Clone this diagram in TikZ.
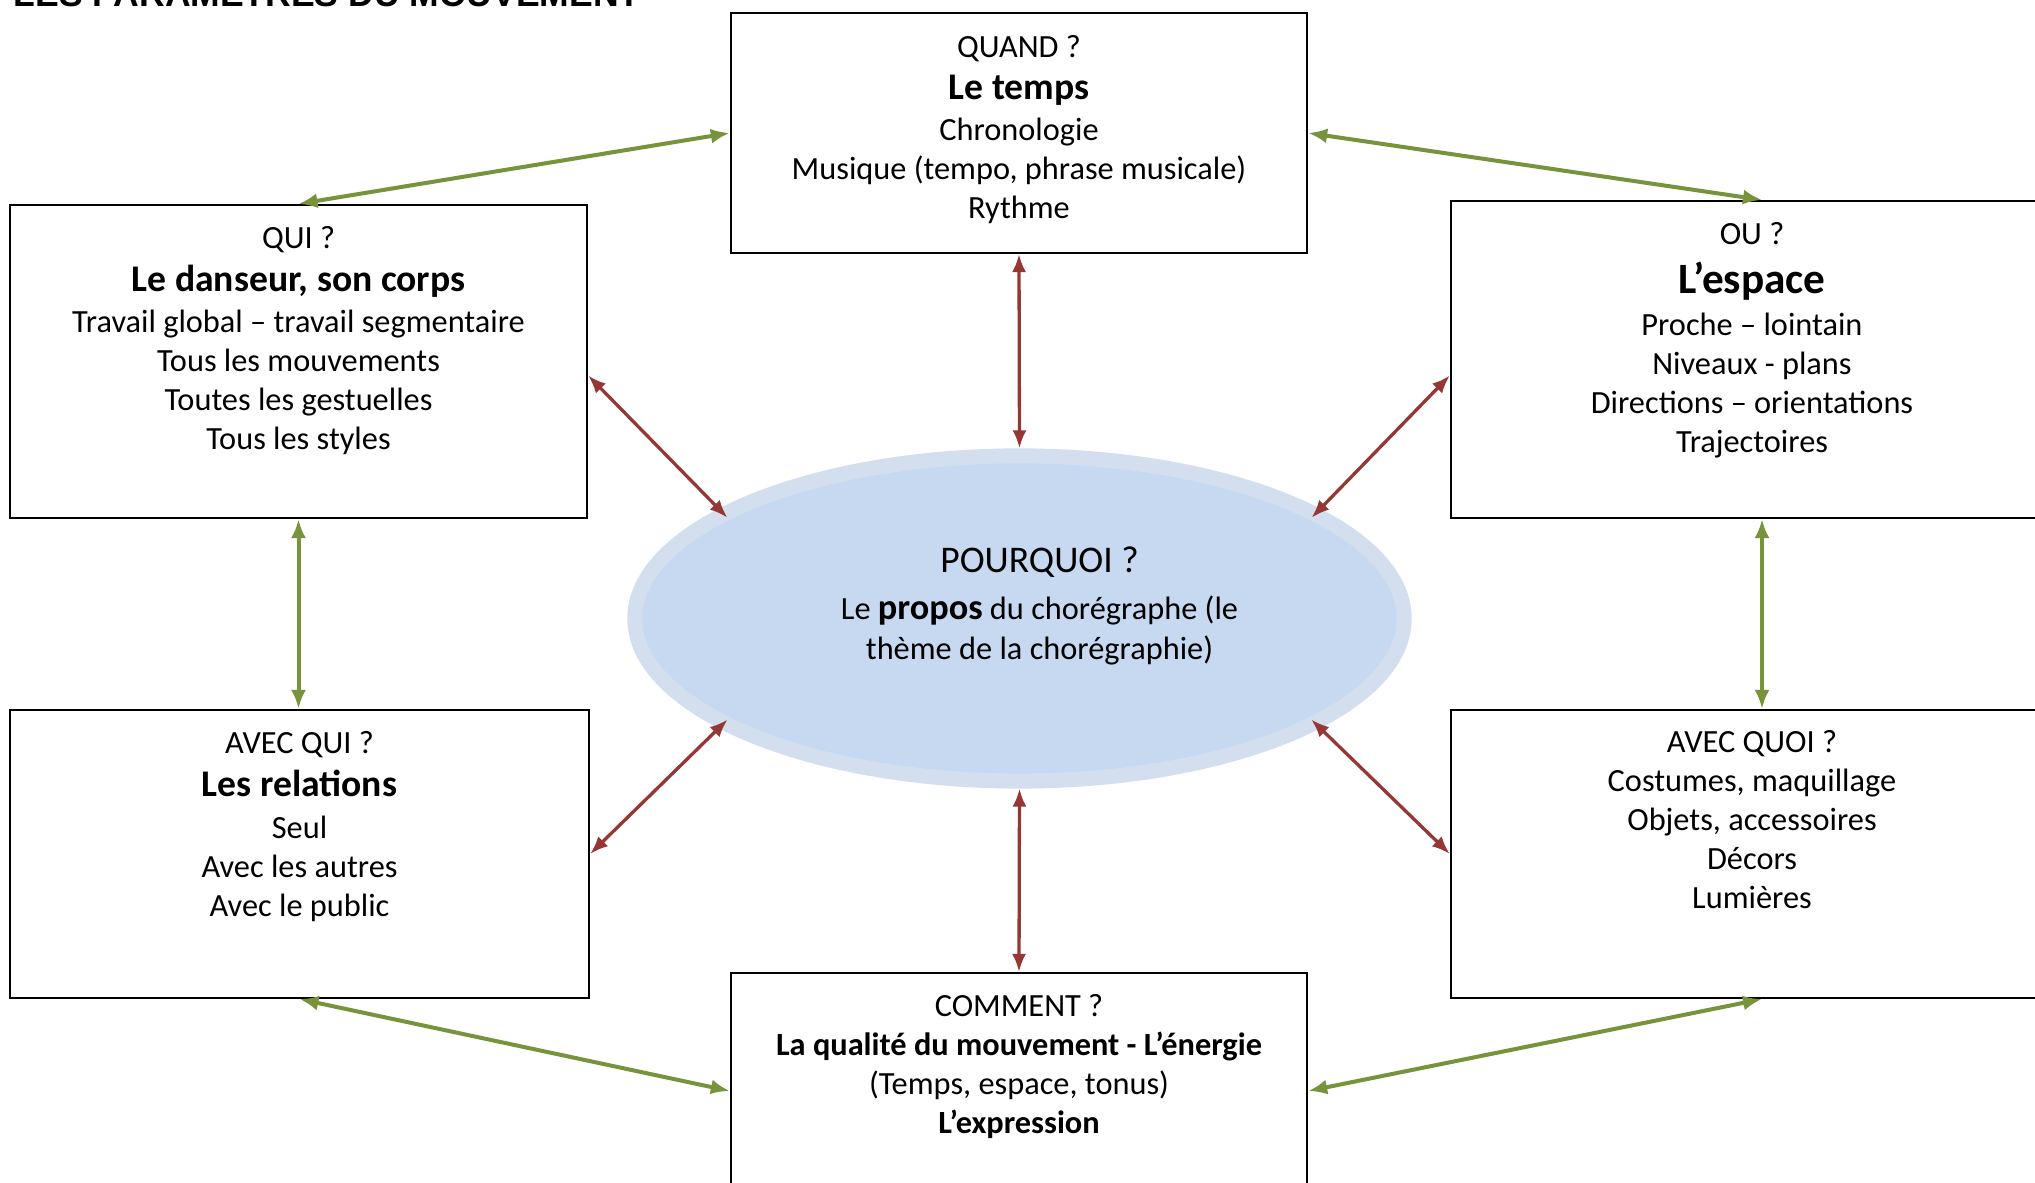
\documentclass[tikz,border=0pt]{standalone}
\usepackage{fontspec}
\setmainfont{Carlito}
\newfontfamily\titrefont{Liberation Sans}
\usetikzlibrary{arrows.meta,shapes.geometric}
\definecolor{vert}{HTML}{77933C}
\definecolor{rouge}{HTML}{953735}
\definecolor{anneau}{HTML}{D3DEEF}
\definecolor{bulle}{HTML}{C6D9F0}
\newcommand\gras[1]{{\fontsize{10.7}{11.1}\selectfont\bfseries #1}}

\begin{document}
\begin{tikzpicture}[x=0.01cm,y=-0.01cm,
  boite/.style={draw,line width=0.02cm,inner sep=0pt},
  texte/.style={anchor=north,align=center,inner sep=0pt,font=\fontsize{9.2}{11.1}\selectfont},
  lienvert/.style={{Latex[length=0.19cm,width=0.15cm]}-{Latex[length=0.19cm,width=0.15cm]},vert,line width=0.04cm},
  lienrouge/.style={{Latex[length=0.18cm,width=0.14cm]}-{Latex[length=0.18cm,width=0.14cm]},rouge,line width=0.033cm}]

\useasboundingbox (0,0) rectangle (2035,1183);
\clip (0,0) rectangle (2035,1183);

\node[anchor=base west,inner sep=0pt,font=\titrefont\fontsize{10.1}{12}\selectfont\bfseries] (titre) at (13,7) {LES PARAMÈTRES DU MOUVEMENT};

% les cadres
\node[boite,minimum width=5.76cm,minimum height=2.4cm] (quand) at (1019,133) {};
\node[boite,minimum width=5.77cm,minimum height=3.13cm] (qui) at (298.5,361.5) {};
\node[boite,minimum width=6.22cm,minimum height=3.17cm] (ou) at (1762,359.5) {};
\node[boite,minimum width=5.79cm,minimum height=2.88cm] (avecqui) at (299.5,854) {};
\node[boite,minimum width=6.22cm,minimum height=2.88cm] (avecquoi) at (1762,854) {};
\node[boite,minimum width=5.76cm,minimum height=2.36cm] (comment) at (1019,1091) {};

\node[ellipse,draw=anneau,fill=bulle,line width=0.15cm,inner sep=0pt,
  minimum width=7.69cm,minimum height=3.25cm] (pq) at (1019.5,618.5) {};

% les textes
\node[texte] (quandtxt) at ([yshift=-0.23cm]quand.north) {QUAND ?\\[0.03cm]
  \gras{Le temps}\\[0.02cm] Chronologie\\ Musique (tempo, phrase musicale)\\ Rythme};
\node[texte] (quitxt) at ([yshift=-0.22cm]qui.north) {QUI ?\\[0.04cm]
  \gras{Le danseur, son corps}\\[0.02cm] Travail global – travail segmentaire\\
  Tous les mouvements\\ Toutes les gestuelles\\ Tous les styles};
\node[texte] (outxt) at ([xshift=-0.1cm,yshift=-0.22cm]ou.north) {OU ?\\[0.1cm]
  {\fontsize{12.3}{11.1}\selectfont\bfseries L’espace}\\[0.025cm] Proche – lointain\\ Niveaux - plans\\
  Directions – orientations\\ Trajectoires};
\node[texte] (avecquitxt) at ([yshift=-0.22cm]avecqui.north) {AVEC QUI ?\\[0.04cm]
  \gras{Les relations}\\[0.03cm] Seul\\ Avec les autres\\ Avec le public};
\node[texte] (avecquoitxt) at ([xshift=-0.1cm,yshift=-0.21cm]avecquoi.north) {AVEC QUOI ?\\
  Costumes, maquillage\\ Objets, accessoires\\ Décors\\ Lumières};
\node[texte] (commenttxt) at ([yshift=-0.22cm]comment.north) {COMMENT ?\\
  \textbf{La qualité du mouvement - L’énergie}\\ (Temps, espace, tonus)\\
  \textbf{L’expression}};
\node[texte] (pqtxt) at ([xshift=0.2cm,yshift=0.72cm]pq.center)
  {{\fontsize{10.7}{11.1}\selectfont POURQUOI ?}\\[0.08cm]
  Le {\fontsize{10.3}{11.1}\selectfont\bfseries propos} du chorégraphe (le\\[0.01cm] thème de la chorégraphie)};

% les liens
\coordinate (quiD) at ([yshift=-0.14cm]qui.east);
\coordinate (ouG) at ([yshift=-0.16cm]ou.west);
\coordinate (quiB) at (qui.south |- avecqui.north);
\foreach \a/\b in {quand.south/pq.north,comment.north/pq.south}
  \draw[lienrouge] (\a) -- (\b);
\foreach \a/\b in {quiD/pq.160,ouG/pq.20,avecqui.east/pq.200,avecquoi.west/pq.-20}
  \draw[lienrouge,shorten >=-0.12cm] (\a) -- (\b);
\foreach \a/\b in {qui.north/quand.west,quand.east/ou.north,qui.south/quiB,
    ou.south/avecquoi.north,avecqui.south/comment.west,comment.east/avecquoi.south}
  \draw[lienvert] (\a) -- (\b);
\end{tikzpicture}
\end{document}
